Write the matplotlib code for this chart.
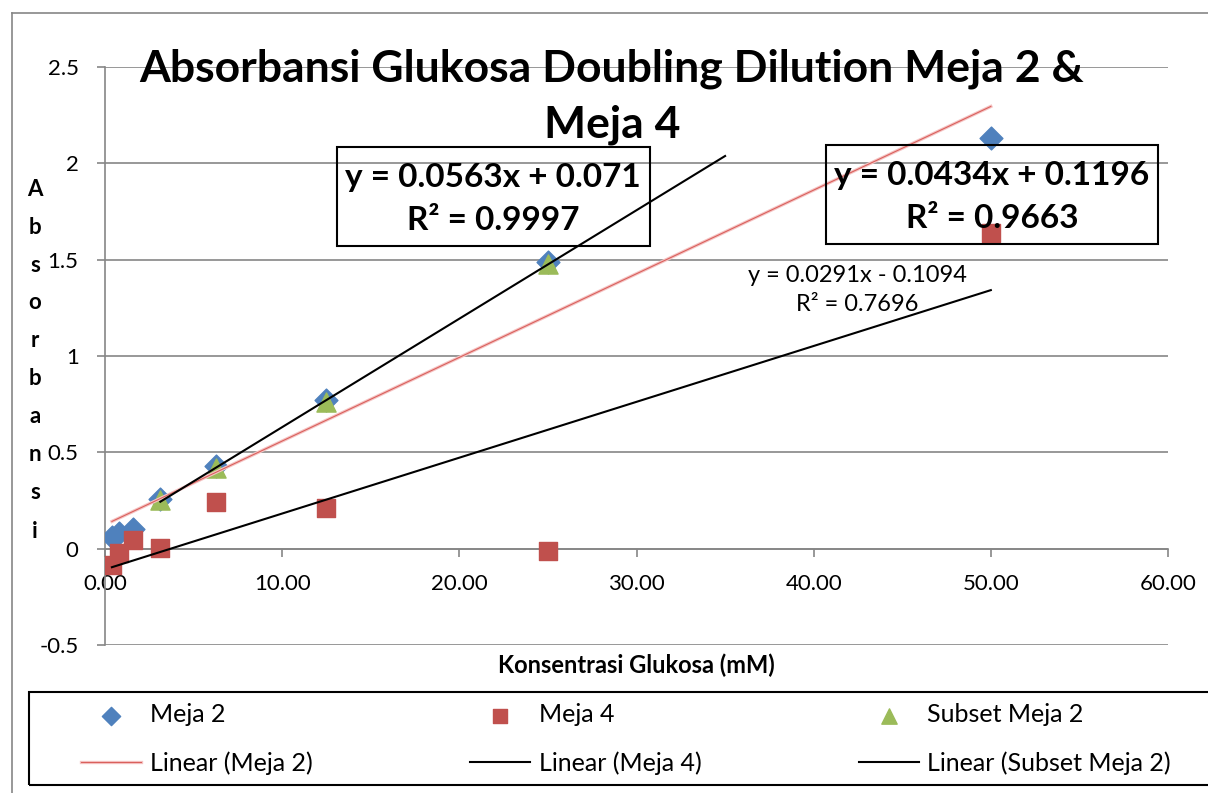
import numpy as np
import matplotlib
matplotlib.use("Agg")
import matplotlib.pyplot as plt
from matplotlib.patches import Rectangle
from matplotlib.lines import Line2D
import matplotlib.patheffects as pe

plt.rcParams['font.family'] = ['Lato', 'DejaVu Sans']

# data
konsentrasi = [0.39, 0.78, 1.56, 3.125, 6.25, 12.5, 25, 50]
meja2 = [0.06, 0.08, 0.10, 0.26, 0.43, 0.77, 1.49, 2.13]
meja4 = [-0.085, -0.02, 0.047, 0.005, 0.24, 0.21, -0.01, 1.64]
subset_x = [3.125, 6.25, 12.5, 25]
subset_meja2 = [0.25, 0.42, 0.76, 1.48]

eq_subset = "y = 0.0563x + 0.071\nR² = 0.9997"
eq_meja2 = "y = 0.0434x + 0.1196\nR² = 0.9663"
eq_meja4 = "y = 0.0291x - 0.1094\nR² = 0.7696"

W, H = 1208, 793
grid_col = '#868686'
fig = plt.figure(figsize=(W / 100, H / 100), dpi=100)
ax = fig.add_axes([105 / W, 1 - 645 / H, (1168 - 105) / W, (645 - 67) / H])

# outer chart border (cropped)
fig.add_artist(Line2D([12 / W, 12 / W], [0, 1 - 13 / H], color=grid_col, lw=1.2))
fig.add_artist(Line2D([12 / W, 1], [1 - 13 / H, 1 - 13 / H], color=grid_col, lw=1.2))

# trendlines
x2 = np.array([min(konsentrasi), max(konsentrasi)])
p2 = np.polyfit(konsentrasi, meja2, 1)
p4 = np.polyfit(konsentrasi, meja4, 1)
ps = np.polyfit(subset_x, subset_meja2, 1)
xs = np.array([min(subset_x), max(subset_x) + 10])  # forecast forward 10

ax.scatter(konsentrasi, meja2, marker='D', s=135, color='#4F81BD', zorder=3, label='Meja 2')
ax.scatter(konsentrasi, meja4, marker='s', s=170, color='#C0504D', zorder=3, label='Meja 4')
ax.scatter(subset_x, subset_meja2, marker='^', s=190, color='#9BBB59', zorder=3, label='Subset Meja 2')

l2, = ax.plot(x2, np.polyval(p2, x2), color='#d9605c', lw=0.8, zorder=4, label='Linear (Meja 2)',
              path_effects=[pe.Stroke(linewidth=2.4, foreground='#f5c4c4'), pe.Normal()])
l4, = ax.plot(x2, np.polyval(p4, x2), color='black', lw=1.5, zorder=4, label='Linear (Meja 4)')
ls, = ax.plot(xs, np.polyval(ps, xs), color='black', lw=1.5, zorder=4, label='Linear (Subset Meja 2)')

ax.set_xlim(0, 60)
ax.set_ylim(-0.5, 2.5)
ax.set_xticks(np.arange(0, 61, 10))
ax.set_xticklabels([f"{v:.2f}" for v in np.arange(0, 61, 10)])
ax.set_yticks(np.arange(-0.5, 2.51, 0.5))
ax.set_yticklabels(['-0.5', '0', '0.5', '1', '1.5', '2', '2.5'])
ax.yaxis.grid(True, color=grid_col, lw=1.2)
ax.set_axisbelow(True)
for s in ['top', 'right']:
    ax.spines[s].set_visible(False)
ax.spines['bottom'].set_position(('data', 0))
ax.spines['bottom'].set_color(grid_col)
ax.spines['left'].set_color(grid_col)
ax.spines['bottom'].set_linewidth(1.2)
ax.spines['left'].set_linewidth(1.2)
ax.tick_params(axis='x', direction='out', length=6, width=1.2, color=grid_col, labelsize=16, pad=12)
ax.tick_params(axis='y', direction='out', length=6, width=1.2, color=grid_col, labelsize=16, pad=13)

# title
fig.text(612 / W, 1 - 97 / H, "Absorbansi Glukosa Doubling Dilution Meja 2 &\nMeja 4",
         ha='center', va='center', fontsize=32, fontweight='bold', linespacing=1.48)

# axis labels
fig.text(636 / W, 1 - 665 / H, "Konsentrasi Glukosa (mM)", ha='center', va='center',
         fontsize=17, fontweight='bold')
fig.text(35 / W, 1 - 360 / H, "\n".join("Absorbansi"), ha='center', va='center',
         fontsize=16, fontweight='bold', linespacing=2.0)

# equation boxes
fig.add_artist(Rectangle((337 / W, 1 - 246 / H), (650 - 337) / W, (246 - 147) / H,
                         transform=fig.transFigure, fill=False, ec='black', lw=1.5))
fig.text(493 / W, 1 - 199 / H, eq_subset, ha='center', va='center', fontsize=24,
         fontweight='bold', linespacing=1.55)
fig.add_artist(Rectangle((826 / W, 1 - 244 / H), (1158 - 826) / W, (244 - 145) / H,
                         transform=fig.transFigure, fill=False, ec='black', lw=1.5))
fig.text(992 / W, 1 - 197 / H, eq_meja2, ha='center', va='center', fontsize=24,
         fontweight='bold', linespacing=1.55)
fig.text(857 / W, 1 - 290 / H, eq_meja4, ha='center', va='center', fontsize=17,
         linespacing=1.45)

# legend
handles, labels = ax.get_legend_handles_labels()
order = [0, 3, 1, 4, 2, 5]
fig.add_artist(Rectangle((29 / W, 1 - 785 / H), (1223 - 29) / W, (785 - 692) / H,
                         transform=fig.transFigure, fill=False, ec='black', lw=1.5))
fig.legend([handles[i] for i in order], [labels[i] for i in order], ncol=3, mode='expand',
           loc='center', bbox_to_anchor=(81 / W, 1 - 770 / H, (1171 - 81) / W, (770 - 708) / H),
           frameon=False, borderpad=0, fontsize=18, handlelength=2.4, handletextpad=0.35,
           labelspacing=1.0, borderaxespad=0, scatterpoints=1, markerscale=0.8)

fig.savefig('out.png', dpi=100)
